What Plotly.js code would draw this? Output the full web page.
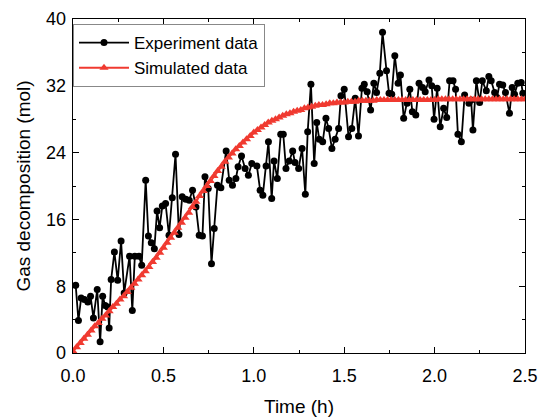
<!DOCTYPE html>
<html>
<head>
<meta charset="utf-8">
<script src="https://cdn.plot.ly/plotly-3.0.1.min.js"></script>
<style>
html,body{margin:0;padding:0;background:#fff;}
#chart{width:542px;height:418px;}
</style>
</head>
<body>
<div id="chart"></div>
<script>
// Experiment data (time in h, gas decomposition in mol)
const expTime = [0.015,0.030,0.045,0.063,0.082,0.097,0.113,0.134,0.150,0.164,0.178,0.192,0.200,0.211,0.229,0.247,0.266,0.283,0.313,0.328,0.342,0.365,0.380,0.402,0.417,0.433,0.450,0.465,0.479,0.494,0.512,0.531,0.549,0.567,0.586,0.604,0.624,0.643,0.661,0.680,0.698,0.716,0.730,0.748,0.766,0.781,0.799,0.818,0.847,0.864,0.882,0.901,0.913,0.932,0.952,0.970,0.989,1.017,1.035,1.050,1.068,1.081,1.099,1.112,1.130,1.149,1.163,1.178,1.196,1.215,1.228,1.248,1.267,1.285,1.298,1.316,1.334,1.348,1.362,1.381,1.399,1.414,1.432,1.450,1.469,1.482,1.500,1.524,1.542,1.561,1.579,1.598,1.611,1.627,1.646,1.664,1.679,1.697,1.712,1.734,1.748,1.763,1.780,1.798,1.811,1.829,1.848,1.863,1.877,1.896,1.914,1.933,1.948,1.969,1.984,1.997,2.014,2.031,2.050,2.067,2.083,2.102,2.116,2.129,2.148,2.166,2.190,2.202,2.212,2.231,2.249,2.264,2.286,2.300,2.313,2.332,2.345,2.359,2.377,2.392,2.414,2.429,2.442,2.460,2.479,2.488];
const expGas = [8.1,3.9,6.6,6.4,6.1,6.8,4.2,7.6,1.35,6.8,5.7,5.5,3.0,8.8,12.1,8.7,13.4,7.2,11.6,5.1,11.6,11.6,10.5,20.7,14.0,13.2,12.5,17.0,15.0,17.6,17.9,14.1,18.6,23.8,14.2,18.7,18.4,18.3,19.5,17.5,14.1,14.0,21.1,19.7,10.7,14.9,20.1,19.8,24.2,20.7,20.1,20.9,22.3,23.6,22.1,21.3,22.7,22.4,19.5,18.9,22.4,25.3,18.5,23.0,20.9,26.2,26.2,22.1,23.0,24.2,22.8,22.1,24.5,19.0,26.5,32.2,22.7,27.6,25.6,25.3,28.1,26.9,24.5,25.6,26.9,30.8,31.6,25.9,26.9,30.5,26.0,31.7,32.2,31.3,29.1,32.3,31.2,33.5,38.4,33.8,31.1,31.0,35.6,32.3,33.3,28.1,29.9,31.6,28.9,28.5,32.3,31.8,31.3,32.7,32.0,28.0,31.7,27.1,29.3,28.2,32.6,32.6,31.6,26.2,25.3,30.9,29.9,30.3,26.7,32.6,30.0,32.6,31.4,33.1,32.6,31.2,30.6,32.2,32.1,31.2,28.7,31.8,31.0,32.3,32.4,31.1];

// Simulated data
const simTime = [0.00,0.02,0.04,0.06,0.08,0.10,0.12,0.14,0.16,0.18,0.20,0.22,0.24,0.26,0.28,0.30,0.32,0.34,0.36,0.38,0.40,0.42,0.44,0.46,0.48,0.50,0.52,0.54,0.56,0.58,0.60,0.62,0.64,0.66,0.68,0.70,0.72,0.74,0.76,0.78,0.80,0.82,0.84,0.86,0.88,0.90,0.92,0.94,0.96,0.98,1.00,1.02,1.04,1.06,1.08,1.10,1.12,1.14,1.16,1.18,1.20,1.22,1.24,1.26,1.28,1.30,1.32,1.34,1.36,1.38,1.40,1.42,1.44,1.46,1.48,1.50,1.52,1.54,1.56,1.58,1.60,1.62,1.64,1.66,1.68,1.70,1.72,1.74,1.76,1.78,1.80,1.82,1.84,1.86,1.88,1.90,1.92,1.94,1.96,1.98,2.00,2.02,2.04,2.06,2.08,2.10,2.12,2.14,2.16,2.18,2.20,2.22,2.24,2.26,2.28,2.30,2.32,2.34,2.36,2.38,2.40,2.42,2.44,2.46,2.48,2.50];
const simGas = [0.2,0.7,1.2,1.7,2.2,2.7,3.2,3.6,4.1,4.5,5.0,5.5,5.9,6.4,6.8,7.3,7.8,8.3,8.8,9.3,9.8,10.3,10.9,11.4,12.0,12.6,13.2,13.8,14.4,15.0,15.6,16.2,16.8,17.5,18.1,18.8,19.4,20.0,20.6,21.2,21.8,22.3,22.9,23.4,23.9,24.4,24.8,25.2,25.6,26.0,26.4,26.7,27.0,27.3,27.6,27.8,28.0,28.2,28.4,28.6,28.7,28.9,29.0,29.1,29.3,29.4,29.5,29.6,29.7,29.7,29.8,29.9,29.9,30.0,30.0,30.0,30.1,30.1,30.1,30.2,30.2,30.2,30.2,30.2,30.3,30.3,30.3,30.3,30.3,30.3,30.3,30.3,30.3,30.3,30.3,30.3,30.3,30.3,30.3,30.3,30.3,30.4,30.4,30.4,30.4,30.4,30.4,30.4,30.4,30.4,30.4,30.4,30.4,30.4,30.4,30.4,30.4,30.4,30.4,30.4,30.4,30.4,30.4,30.4,30.4,30.4];

const xTicks = [0, 0.5, 1.0, 1.5, 2.0, 2.5];
const xTickText = ["0.0","0.5","1.0","1.5","2.0","2.5"];
const yTicks = [0, 8, 16, 24, 32, 40];
const yTickText = ["0","8","16","24","32","40"];

const FONT = "Liberation Sans, Arial, Helvetica, sans-serif";
const RED = "#f03a30";

const traces = [
  {
    x: expTime, y: expGas, name: "Experiment data",
    type: "scatter", mode: "lines+markers",
    line: {color: "#000000", width: 1.8},
    marker: {color: "#000000", size: 7, symbol: "circle"}
  },
  {
    x: simTime, y: simGas, name: "Simulated data",
    type: "scatter", mode: "lines+markers",
    line: {color: RED, width: 2},
    marker: {color: RED, size: 8, symbol: "triangle-up"}
  }
];

const axisCommon = {
  showgrid: false, zeroline: false,
  showline: true, linecolor: "#000", linewidth: 1.3,
  mirror: "allticks", ticks: "inside", ticklen: 6, tickwidth: 1.2, tickcolor: "#000",
  tickfont: {family: FONT, size: 18, color: "#000"}
};

const layout = {
  width: 542, height: 418,
  margin: {l: 73, r: 17, t: 19, b: 65},
  paper_bgcolor: "#fff", plot_bgcolor: "#fff",
  font: {family: FONT, color: "#000"},
  showlegend: true,
  legend: {
    x: 0.0, y: 0.985, xanchor: "left", yanchor: "top",
    bgcolor: "rgba(255,255,255,1)", bordercolor: "#888", borderwidth: 1,
    font: {family: FONT, size: 17, color: "#000"},
    tracegroupgap: 0, itemwidth: 50
  },
  xaxis: Object.assign({}, axisCommon, {
    range: [0, 2.5], tickvals: xTicks, ticktext: xTickText,
    ticklabelstandoff: 6,
    minor: {dtick: 0.25, tick0: 0, ticks: "inside", ticklen: 3, tickwidth: 1, tickcolor: "#000"},
    title: {text: "Time (h)", font: {family: FONT, size: 19, color: "#000"}, standoff: 14}
  }),
  yaxis: Object.assign({}, axisCommon, {
    range: [0, 40], tickvals: yTicks, ticktext: yTickText,
    ticklabelstandoff: 2,
    minor: {dtick: 4, tick0: 0, ticks: "inside", ticklen: 3, tickwidth: 1, tickcolor: "#000"},
    title: {text: "Gas decomposition (mol)", font: {family: FONT, size: 19, color: "#000"}, standoff: 10}
  })
};

Plotly.newPlot("chart", traces, layout, {displayModeBar: false, staticPlot: true});
</script>
</body>
</html>
